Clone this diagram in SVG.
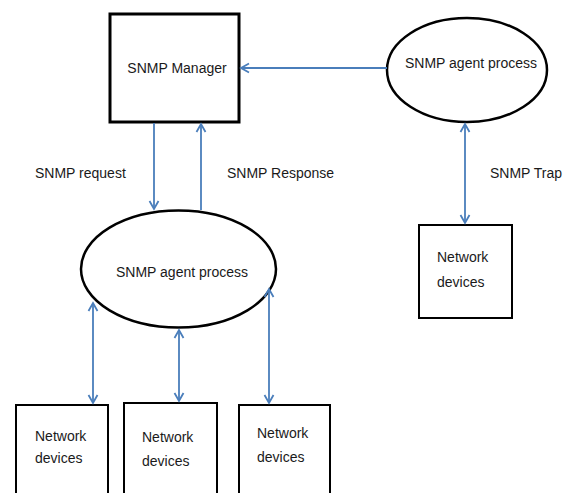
<svg xmlns="http://www.w3.org/2000/svg" width="568" height="493" viewBox="0 0 568 493">
<defs>
<marker id="ah" markerUnits="userSpaceOnUse" markerWidth="12" markerHeight="12" refX="9" refY="5" orient="auto-start-reverse" viewBox="0 0 12 10">
<path d="M1,0.5 L9,5 L1,9.5" fill="none" stroke="#4A7EBB" stroke-width="1.8"/>
</marker>
<style>
.lbl{font-family:"Liberation Sans",Arial,sans-serif;font-size:14px;fill:#1a1a1a}
.box{fill:#fff;stroke:#000;stroke-width:2}
.ell{fill:#fff;stroke:#000;stroke-width:2.5}
.con{stroke:#4A7EBB;stroke-width:1.8;fill:none}
</style>
</defs>
<rect width="568" height="493" fill="#fff"/>
<g id="manager">
<rect x="110" y="14" width="129" height="108" fill="#fff" stroke="#000" stroke-width="3"/>
<text class="lbl" x="177" y="73" text-anchor="middle">SNMP Manager</text>
</g>
<g id="agent-top">
<ellipse class="ell" cx="467" cy="70" rx="80" ry="52"/>
<text class="lbl" x="471" y="68" text-anchor="middle">SNMP agent process</text>
</g>
<g id="agent-main">
<ellipse class="ell" cx="178.5" cy="269" rx="97.5" ry="58.5"/>
<text class="lbl" x="182" y="277" text-anchor="middle">SNMP agent process</text>
</g>
<g id="dev-trap">
<rect class="box" x="419" y="225" width="93" height="93"/>
<text class="lbl" x="437" y="262">Network</text>
<text class="lbl" x="437" y="287">devices</text>
</g>
<g id="dev-1">
<rect class="box" x="16" y="405" width="92" height="100"/>
<text class="lbl" x="35" y="441">Network</text>
<text class="lbl" x="35" y="463">devices</text>
</g>
<g id="dev-2">
<rect class="box" x="124" y="403" width="93" height="100"/>
<text class="lbl" x="142" y="442">Network</text>
<text class="lbl" x="142" y="466">devices</text>
</g>
<g id="dev-3">
<rect class="box" x="239" y="405" width="91" height="100"/>
<text class="lbl" x="257" y="438">Network</text>
<text class="lbl" x="257" y="462">devices</text>
</g>
<g id="connectors">
<line class="con" x1="387" y1="68" x2="241" y2="68" marker-end="url(#ah)"/>
<line class="con" x1="154" y1="123" x2="154" y2="209" marker-end="url(#ah)"/>
<line class="con" x1="201" y1="210" x2="201" y2="124" marker-end="url(#ah)"/>
<line class="con" x1="465" y1="124" x2="465" y2="223" marker-start="url(#ah)" marker-end="url(#ah)"/>
<line class="con" x1="93" y1="303" x2="93" y2="403" marker-start="url(#ah)" marker-end="url(#ah)"/>
<line class="con" x1="179" y1="330" x2="179" y2="401" marker-start="url(#ah)" marker-end="url(#ah)"/>
<line class="con" x1="269" y1="289" x2="269" y2="403" marker-start="url(#ah)" marker-end="url(#ah)"/>
</g>
<g id="labels">
<text class="lbl" x="35" y="178">SNMP request</text>
<text class="lbl" x="227" y="178">SNMP Response</text>
<text class="lbl" x="490" y="178">SNMP Trap</text>
</g>
</svg>
